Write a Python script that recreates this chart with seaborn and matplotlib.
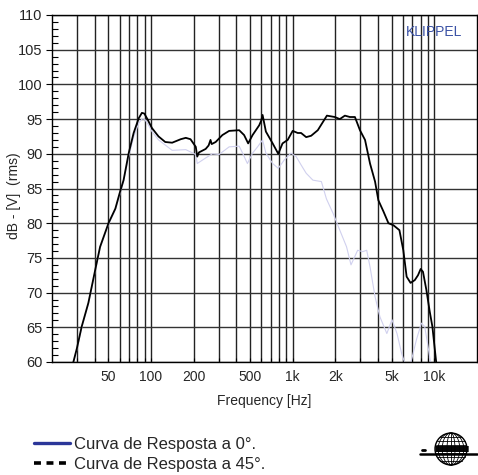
import numpy as np
import matplotlib
matplotlib.use("Agg")
import matplotlib.pyplot as plt
import matplotlib.ticker as mticker
from matplotlib.lines import Line2D
from matplotlib.patches import Circle, Ellipse
import seaborn as sns

# 0 deg response (black curve)
freq_0 = [27, 28.3, 30, 32.4, 36.1, 40.4, 43.7, 50.1, 56, 60, 64, 69.6, 75.4, 81.8, 86.2, 89.7,
          93.7, 101.6, 113, 126, 141, 162, 176, 190, 207, 212, 218, 243, 255, 263, 268, 286,
          319, 356, 419, 454, 485, 521, 580, 600, 613, 647, 722, 791, 848, 922, 1000, 1085,
          1146, 1245, 1350, 1504, 1744, 1982, 2150, 2336, 2534, 2750, 2984, 3241, 3515, 3814,
          4026, 4370, 4742, 5145, 5667, 6037, 6372, 6792, 7275, 7665, 8005, 8311, 8780, 9270,
          9685, 10300, 10600]
spl_0 = [58.5, 60, 62, 65.1, 68.5, 73.3, 76.6, 80, 82.1, 84.3, 86.2, 90.1, 93, 95.1, 95.9, 95.8,
         95.1, 93.7, 92.5, 91.7, 91.6, 92.1, 92.3, 92.1, 91, 89.6, 90.2, 90.7, 91.2, 92.0, 91.4, 91.7,
         92.7, 93.3, 93.4, 92.7, 91.5, 92.7, 94.1, 94.8, 95.6, 93.2, 91.5, 90, 91.5, 92, 93.3, 93,
         93, 92.4, 92.6, 93.4, 95.5, 95.3, 95, 95.5, 95.3, 95.3, 93.4, 92, 88.6, 86,
         83.3, 81.7, 80, 79.7, 79, 76.1, 72.3, 71.4, 71.8, 72.5, 73.4, 73, 70.4, 67.3,
         65.1, 60, 57]

# 45 deg response (light curve)
freq_45 = [27, 28.5, 30, 32.4, 36.1, 40.4, 43.7, 50.1, 56, 60, 64, 69.6, 75.4, 81.8, 86.2, 90,
           95, 101.6, 113, 141, 176, 207, 212, 243, 271, 302, 356, 419, 443, 479, 521, 565,
           613, 647, 722, 791, 871, 973, 1058, 1146, 1245, 1389, 1594, 1731, 1930, 2150, 2400,
           2580, 2874, 3120, 3330, 3515, 3814, 4130, 4620, 5020, 5450, 5880, 6200, 6500, 6900,
           7470, 8100, 8550, 9030, 9500, 9800]
spl_45 = [58.5, 60, 61.8, 64.9, 68.3, 73.1, 76.4, 79.8, 81.9, 84, 86, 89.6, 92.4, 94.4, 95, 95,
          94.3, 93.2, 92, 90.5, 90.6, 89.9, 88.6, 89.4, 90, 89.9, 91, 91.1, 90.1, 88.6, 90.1, 91,
          92, 90.1, 88.6, 87.9, 89.1, 90.1, 89.6, 88.4, 87.2, 86.2, 86, 83.5, 81.4, 79, 76.6,
          74, 76.1, 75.9, 76.1, 73.7, 69.4, 66.5, 64.1, 66.1, 64.1, 61.2, 59.8, 59, 60.3,
          63.2, 65.6, 65.1, 62.2, 59.3, 57]

tick_freqs = [50, 100, 200, 500, 1000, 2000, 5000, 10000]
tick_labels = ["50", "100", "200", "500", "1k", "2k", "5k", "10k"]
legend_labels = ["Curva de Resposta a 0°.", "Curva de Resposta a 45°."]

sns.set_theme(style="white")
plt.rcParams["font.family"] = ["Liberation Sans", "DejaVu Sans"]
plt.rcParams["lines.scale_dashes"] = False

fig = plt.figure(figsize=(4.78, 4.75), dpi=100)
ax = fig.add_axes([52 / 478, 1 - 362 / 475, 425 / 478, 347 / 475])
ax.set_xscale("log")

sns.lineplot(x=freq_45, y=spl_45, ax=ax, color="#d0d0ee", lw=0.8, sort=False)
sns.lineplot(x=freq_0, y=spl_0, ax=ax, color="black", lw=1.3, sort=False)

ax.set_xlim(20, 20000)
ax.set_ylim(60, 110)

# grid at 30..90, 100..900, ...
grid_f = [m * 10 ** d for d in range(1, 5) for m in range(1, 10) if 20 < m * 10 ** d < 20000]
ax.xaxis.set_major_locator(mticker.FixedLocator(tick_freqs))
ax.xaxis.set_major_formatter(mticker.FixedFormatter(tick_labels))
ax.xaxis.set_minor_locator(mticker.FixedLocator(grid_f))
ax.xaxis.set_minor_formatter(mticker.NullFormatter())
ax.yaxis.set_major_locator(mticker.MultipleLocator(5))
ax.yaxis.set_minor_locator(mticker.MultipleLocator(1))

ax.grid(True, which="both", axis="x", color="#222222", lw=1.0)
ax.grid(True, which="major", axis="y", color="#333333", lw=1.0)

ax.tick_params(axis="x", which="both", direction="in", length=3, width=0.8, color="black",
               labelsize=10, pad=6, bottom=True)
ax.tick_params(axis="y", which="major", direction="out", length=4, width=0.8, color="black",
               labelsize=10.5, pad=3, left=True)
ax.tick_params(axis="y", which="minor", direction="in", length=4, width=0.8, color="black", left=True)

for s in ax.spines.values():
    s.set_color("black")
    s.set_linewidth(1.0)

ax.set_xlabel("Frequency [Hz]", fontsize=10, labelpad=7)
ax.set_ylabel("dB - [V]  (rms)", fontsize=10)
ax.yaxis.set_label_coords(-0.072, 0.478)

ax.text(0.965, 0.952, "KLIPPEL", transform=ax.transAxes, ha="right", va="center",
        fontsize=10, color="#3b52a5")

handles = [Line2D([], [], color="#2b3699", lw=2.4),
           Line2D([], [], color="black", lw=2.6, ls=(0, (5.0, 4.0)))]
fig.legend(handles, legend_labels, loc="upper left", bbox_to_anchor=(34 / 478, 1 - 437 / 475),
           frameon=False, fontsize=12, handlelength=2.15, handletextpad=0.25,
           labelspacing=0.3, borderpad=0, borderaxespad=0)

# small globe logo
lax = fig.add_axes([415 / 478, 1 - 468 / 475, 63 / 478, 38 / 475])
lax.set_xlim(415, 478)
lax.set_ylim(468, 430)
lax.set_aspect("equal", adjustable="datalim")
lax.axis("off")
cx, cy, r = 451, 449, 16
lax.add_patch(Circle((cx, cy), r, fill=False, ec="black", lw=1.0))
for k in [0.25, 0.55, 0.8]:
    lax.add_patch(Ellipse((cx, cy), 2 * r * k, 2 * r, fill=False, ec="black", lw=0.6))
lax.plot([cx, cx], [cy - r, cy + r], color="black", lw=0.6)
for dy in [-12, -8, -4, 4, 8, 12]:
    half = np.sqrt(r ** 2 - dy ** 2)
    lax.plot([cx - half, cx + half], [cy + dy, cy + dy], color="black", lw=0.6)
for dy in [-2, 0, 2]:
    lax.plot([436, 468], [cy + dy, cy + dy], color="black", lw=1.4)
lax.plot([420, 477], [cy + 4.5, cy + 4.5], color="black", lw=1.8)
lax.plot([422, 425], [cy + 0.5, cy + 0.5], color="black", lw=2.0)

fig.savefig("out.png", dpi=100)
